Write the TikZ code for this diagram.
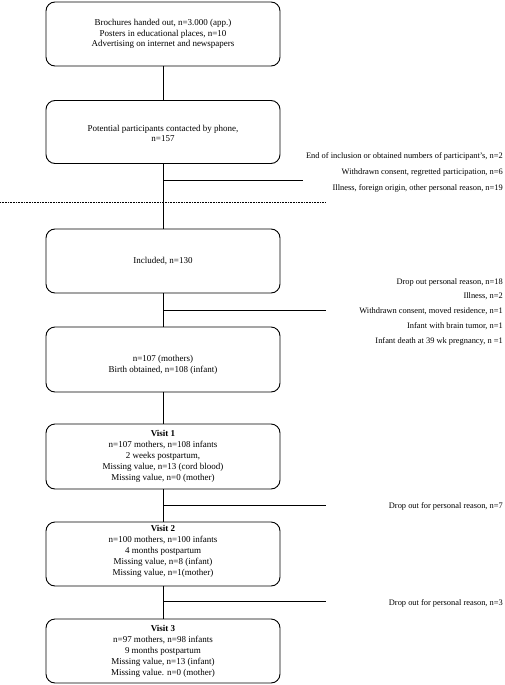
\documentclass[tikz,border=0pt]{standalone}
\usepackage{fontspec}
\setmainfont{Liberation Serif}
\begin{document}
\begin{tikzpicture}[x=1pt,y=-1pt,
  box/.style={draw,line width=0.9pt,rounded corners=9pt,minimum width=234pt,inner sep=0pt,align=center},
  boxtxt/.style={font=\fontsize{9}{10.5}\selectfont},
  vistxt/.style={font=\fontsize{9}{11}\selectfont},
  side/.style={anchor=east,inner sep=0pt,font=\fontsize{8.4}{10}\selectfont},
  conn/.style={line width=0.8pt}]
\useasboundingbox (0,0) rectangle (505,685);
\node[box,boxtxt,minimum height=64pt] (b1) at (163,34) {Brochures handed out, n=3.000 (app.)\\Posters in educational places, n=10\\Advertising on internet and newspapers};
\node[box,boxtxt,minimum height=63pt] (b2) at (163,132) {\rule{0pt}{9pt}Potential participants contacted by phone,\\n=157};
\node[box,boxtxt,minimum height=64pt] (b3) at (163,261) {Included, n=130};
\node[box,boxtxt,minimum height=65pt] (b4) at (163,359.5) {\rule{0pt}{17pt}n=107 (mothers)\\Birth obtained, n=108 (infant)};
\node[box,vistxt,minimum height=65pt] (b5) at (163,456.5) {\textbf{Visit 1}\\n=107 mothers, n=108 infants\\2 weeks postpartum,\\Missing value, n=13 (cord blood)\\Missing value, n=0 (mother)};
\node[box,vistxt,minimum height=64pt] (b6) at (163,554) {\textbf{Visit 2}\\n=100 mothers, n=100 infants\\4 months postpartum\\Missing value, n=8 (infant)\\Missing value, n=1(mother)\\[-3pt]};
\node[box,vistxt,minimum height=64pt] (b7) at (163,651) {\textbf{Visit 3}\\n=97 mothers, n=98 infants\\9 months postpartum\\Missing value, n=13 (infant)\\Missing value. n=0 (mother)};
% connectors
\draw[conn] (b1.south) -- (b2.north);
\draw[conn] (b2.south) -- (b3.north);
\draw[conn] (b3.south) -- (b4.north);
\draw[conn] (b4.south) -- (b5.north);
\draw[conn] (b5.south) -- (b6.north);
\draw[conn] (b6.south) -- (b7.north);
% branches
\coordinate (j1) at (163,180); \coordinate (e1) at (303,180);
\coordinate (j2) at (163,310); \coordinate (e2) at (326,310);
\coordinate (j3) at (163,505); \coordinate (e3) at (326,505);
\coordinate (j4) at (163,601); \coordinate (e4) at (326,601);
\draw[conn] (j1) -- (e1);
\draw[conn] (j2) -- (e2);
\draw[conn] (j3) -- (e3);
\draw[conn] (j4) -- (e4);
% dotted line
\coordinate (d1) at (0,202); \coordinate (d2) at (326,202);
\draw[line width=0.6pt,dash pattern=on 0.8pt off 0.8pt] (d1) -- (d2);
% side notes
\node[side] (s1) at (503,156) {End of inclusion or obtained numbers of participant's, n=2};
\node[side] (s2) at (503,172) {Withdrawn consent, regretted participation, n=6};
\node[side] (s3) at (503,188) {Illness, foreign origin, other personal reason, n=19};
\node[side] (s4) at (503,282) {Drop out personal reason, n=18};
\node[side] (s5) at (503,296) {Illness, n=2};
\node[side] (s6) at (503,311) {Withdrawn consent, moved residence, n=1};
\node[side] (s7) at (503,326) {Infant with brain tumor, n=1};
\node[side] (s8) at (503,341) {Infant death at 39 wk pregnancy, n =1};
\node[side] (s9) at (503,506) {Drop out for personal reason, n=7};
\node[side] (s10) at (503,603) {Drop out for personal reason, n=3};
\end{tikzpicture}
\end{document}
